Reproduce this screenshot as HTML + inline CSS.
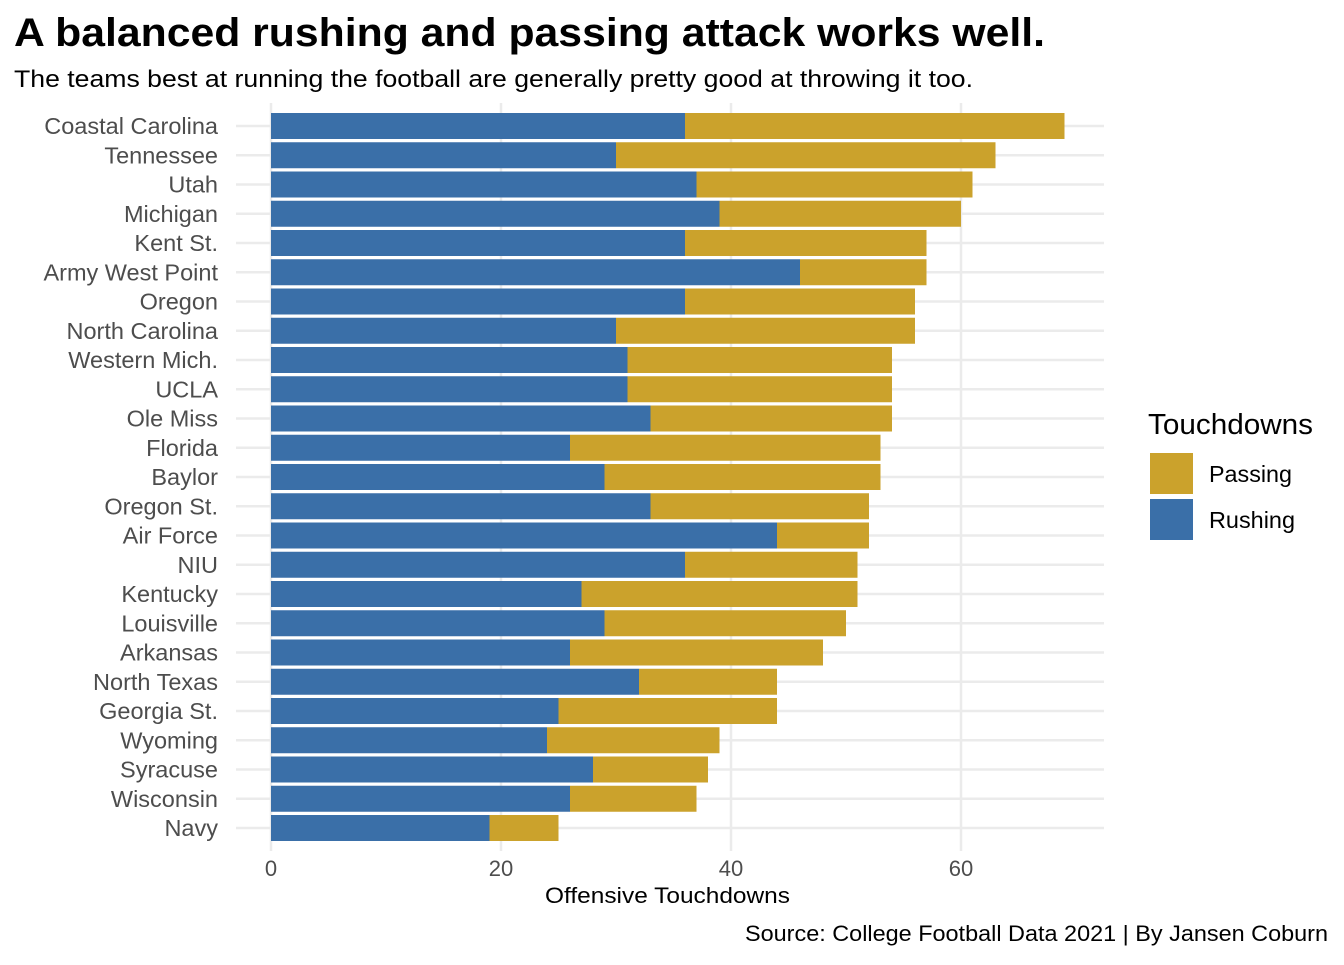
<!DOCTYPE html>
<html><head><meta charset="utf-8"><style>
body{margin:0;background:#fff;font-family:"Liberation Sans",Arial,sans-serif;}
svg text{font-family:"Liberation Sans",Arial,sans-serif;}
</style></head><body>
<svg width="1344" height="960" xmlns="http://www.w3.org/2000/svg">
<text x="14" y="46" font-size="40" font-weight="bold" fill="#000" textLength="1031" lengthAdjust="spacingAndGlyphs">A balanced rushing and passing attack works well.</text>
<text x="14" y="87" font-size="24" fill="#000" textLength="959" lengthAdjust="spacingAndGlyphs">The teams best at running the football are generally pretty good at throwing it too.</text>
<g id="grid"></g>
<g id="bars"></g>
<g id="ylab"></g>
<g id="xlab"></g>
<text x="545" y="903" font-size="22" fill="#000" textLength="245" lengthAdjust="spacingAndGlyphs">Offensive Touchdowns</text>
<text x="745" y="941" font-size="22" fill="#000" textLength="583" lengthAdjust="spacingAndGlyphs">Source: College Football Data 2021 | By Jansen Coburn</text>
<g>
<text x="1148" y="434" font-size="29" fill="#000" textLength="165" lengthAdjust="spacingAndGlyphs">Touchdowns</text>
<rect x="1150" y="453" width="43" height="41" fill="#cba22c"/>
<text x="1209" y="482" font-size="23" fill="#000" textLength="83" lengthAdjust="spacingAndGlyphs">Passing</text>
<rect x="1150" y="499" width="43" height="41" fill="#3a6fa8"/>
<text x="1209" y="528" font-size="23" fill="#000" textLength="86" lengthAdjust="spacingAndGlyphs">Rushing</text>
</g>
</svg>
<script>
const teams=["Coastal Carolina","Tennessee","Utah","Michigan","Kent St.","Army West Point","Oregon","North Carolina","Western Mich.","UCLA","Ole Miss","Florida","Baylor","Oregon St.","Air Force","NIU","Kentucky","Louisville","Arkansas","North Texas","Georgia St.","Wyoming","Syracuse","Wisconsin","Navy"];
const rushing=[36,30,37,39,36,46,36,30,31,31,33,26,29,33,44,36,27,29,26,32,25,24,28,26,19];
const totals=[69,63,61,60,57,57,56,56,54,54,54,53,53,52,52,51,51,50,48,44,44,39,38,37,25];
const xTicks=[0,20,40,60];
const NS="http://www.w3.org/2000/svg";
const x=v=>271+v*11.5;
const y=i=>126+i*29.25;
const bh=26;
function mk(tag,attrs,parent){const e=document.createElementNS(NS,tag);for(const k in attrs)e.setAttribute(k,attrs[k]);parent.appendChild(e);return e;}
const grid=document.getElementById('grid'),bars=document.getElementById('bars'),yl=document.getElementById('ylab'),xl=document.getElementById('xlab');
xTicks.forEach(t=>{
 const l=mk('line',{x1:x(t),x2:x(t),y1:103,y2:851,stroke:'#ebebeb','stroke-width':2.5},grid);
 
 
 const tx=mk('text',{x:x(t),y:876,'font-size':22,'text-anchor':'middle',fill:'#4d4d4d'},xl);
 tx.textContent=t;
 
 
});
teams.forEach((tm,i)=>{
 const g=mk('line',{x1:236,x2:1104,y1:y(i),y2:y(i),stroke:'#ebebeb','stroke-width':2.5},grid);
 
 
 const r=mk('rect',{x:x(0),y:y(i)-bh/2,width:x(rushing[i])-x(0),height:bh,fill:'#3a6fa8'},bars);
 
 
 const p=mk('rect',{x:x(rushing[i]),y:y(i)-bh/2,width:x(totals[i])-x(rushing[i]),height:bh,fill:'#cba22c'},bars);
 
 
 const t=mk('text',{x:218,y:y(i)+8,'font-size':23.5,'text-anchor':'end',fill:'#4d4d4d'},yl);
 t.textContent=tm;
 
 
});
</script>
</body></html>
